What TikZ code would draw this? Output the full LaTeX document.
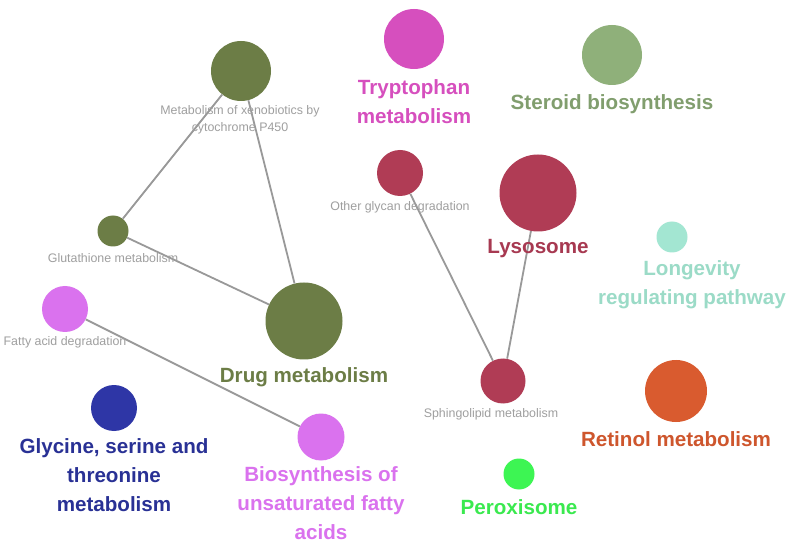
\documentclass[tikz,border=0pt]{standalone}
\usepackage{fontspec}
\setmainfont{Liberation Sans}
\begin{document}
\begin{tikzpicture}[x=1pt,y=-1pt,
  dot/.style={circle,inner sep=0pt,minimum size=#1},
  small/.style={text=gray!75,font=\fontsize{12.4}{17}\selectfont,align=center},
  big/.style={font=\fontsize{20.6}{28.8}\selectfont\bfseries,align=center},
  edge/.style={draw=gray!80,line width=1.8pt}]
\useasboundingbox[fill=white] (0,0) rectangle (788,548);
\definecolor{olive}{HTML}{6C7D46}
\definecolor{trp}{HTML}{D64FBE}
\definecolor{ster}{HTML}{8FB07A}
\definecolor{crim}{HTML}{B03C55}
\definecolor{lon}{HTML}{A3E6D2}
\definecolor{vio}{HTML}{DA72EE}
\definecolor{ret}{HTML}{D95B2F}
\definecolor{gly}{HTML}{2E36A6}
\definecolor{per}{HTML}{3DF553}
% circles
\node[dot=60,fill=olive] (xen) at (241,71) {};
\node[dot=60,fill=trp] (trp) at (414,39) {};
\node[dot=60,fill=ster] (ste) at (612,55) {};
\node[dot=46,fill=crim] (ogd) at (400,173) {};
\node[dot=77,fill=crim] (lys) at (538,193) {};
\node[dot=31,fill=olive] (glu) at (113,231) {};
\node[dot=31,fill=lon] (lon) at (672,237) {};
\node[dot=46,fill=vio] (fad) at (65,309) {};
\node[dot=77,fill=olive] (drug) at (304,321) {};
\node[dot=45,fill=crim] (sph) at (503,381) {};
\node[dot=62,fill=ret] (ret) at (676,391) {};
\node[dot=46,fill=gly] (gly) at (114,408) {};
\node[dot=47,fill=vio] (bus) at (321,437) {};
\node[dot=31,fill=per] (per) at (519,474) {};
% edges
\draw[edge] (xen) -- (glu);
\draw[edge] (xen) -- (drug);
\draw[edge] (glu) -- (drug);
\draw[edge] (fad) -- (bus);
\draw[edge] (ogd) -- (sph);
\draw[edge] (lys) -- (sph);
% labels
\node[small] (lxen) at (240,120) {Metabolism of xenobiotics by\\cytochrome P450};
\node[small] (logd) at (400,207) {Other glycan degradation};
\node[small] (lglu) at (113,258) {Glutathione metabolism};
\node[small] (lfad) at (65,342) {Fatty acid degradation};
\node[small] (lsph) at (491,414) {Sphingolipid metabolism};
\node[big,text=trp] (ltrp) at (414,102) {Tryptophan\\metabolism};
\node[big,text=ster!90!black] (lste) at (612,104) {Steroid biosynthesis};
\node[big,text=crim!95!black] (llys) at (538,249) {Lysosome};
\node[big,text=lon!95!black] (llon) at (692,285) {Longevity\\regulating pathway};
\node[big,text=olive] (ldrug) at (304,377) {Drug metabolism};
\node[big,text=ret!95!black] (lret) at (676,439) {Retinol metabolism};
\node[big,text=gly!90!black] (lgly) at (114,475) {Glycine, serine and\\threonine\\metabolism};
\node[big,text=vio] (lbus) at (321,503) {Biosynthesis of\\unsaturated fatty\\acids};
\node[big,text=per!95!black] (lper) at (519,507) {Peroxisome};
\end{tikzpicture}
\end{document}
